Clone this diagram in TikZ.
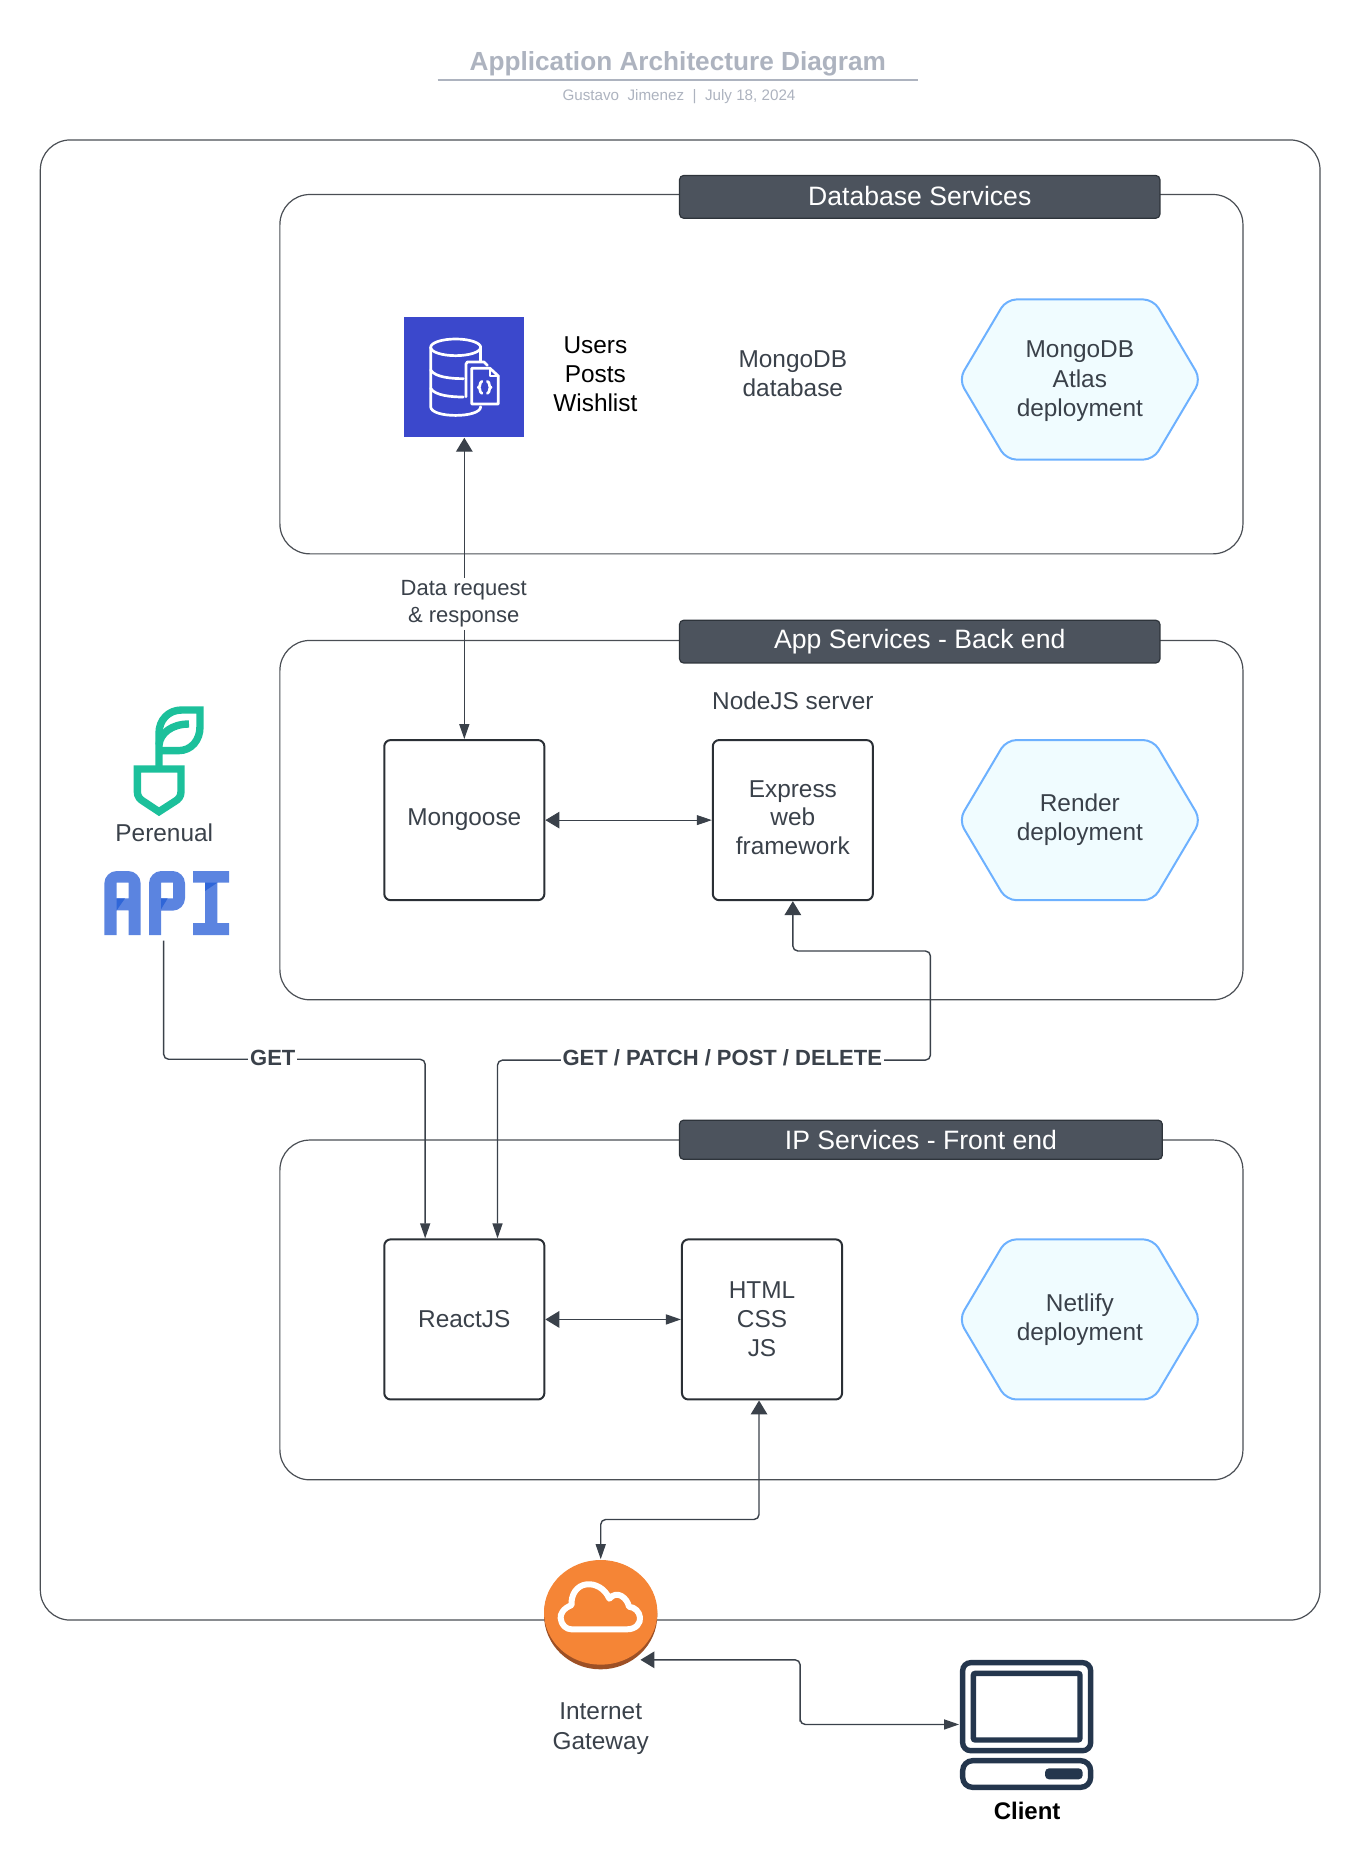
\documentclass[tikz,border=0pt]{standalone}
\usepackage{fontspec}
\setmainfont{Liberation Sans}
\usetikzlibrary{arrows.meta,calc}
\definecolor{ink}{HTML}{3A414A}
\definecolor{hdr}{HTML}{4C535D}
\definecolor{frame}{HTML}{4A4E54}
\definecolor{ttl}{HTML}{ADB3BF}
\definecolor{hexfill}{HTML}{F0FCFF}
\definecolor{hexline}{HTML}{6DB1FF}
\definecolor{leaf}{HTML}{1CC09B}
\definecolor{apib}{HTML}{5B84E0}
\definecolor{apid}{HTML}{2F66D8}
\definecolor{dbblue}{HTML}{3B48CC}
\definecolor{orng}{HTML}{F58536}
\definecolor{orngd}{HTML}{9D5025}
\definecolor{navy}{HTML}{24364D}
\definecolor{boxline}{HTML}{2A2F35}
\tikzset{
  sized/.style 2 args={minimum width=#1*0.593pt,minimum height=#2*0.593pt,inner sep=0pt},
  label text/.style={font=\fontsize{12.2}{14.6}\selectfont,text=ink,align=center},
  container/.style={draw=frame,line width=0.6pt,rounded corners=15pt,fill=none},
  header/.style={draw=ink!80!black,fill=hdr,line width=0.6pt,rounded corners=2pt,text=white,font=\fontsize{13.3}{16}\selectfont},
  svc/.style={draw=boxline,line width=1pt,rounded corners=3.2pt,fill=white,label text},
  hexshape/.style={draw=hexline,fill=hexfill,line width=1pt,rounded corners=5pt},
  conn/.style={draw=ink,line width=0.7pt,rounded corners=2.5pt},
  bigs/.style={{Triangle[length=7pt,width=8.3pt]}-{Triangle[length=7.5pt,width=5pt]}},
  smalltip/.style={-{Triangle[length=7.5pt,width=5pt]}},
  linklabel/.style={font=\bfseries\fontsize{11}{13}\selectfont,text=ink,fill=white,inner sep=1pt},
}
\newcommand{\hexa}[2]{\path[hexshape] ({#1-102},#2) -- ({#1-62},{#2-67.5}) -- ({#1+62},{#2-67.5}) -- ({#1+102},#2) -- ({#1+62},{#2+67.5}) -- ({#1-62},{#2+67.5}) -- cycle;}
\begin{document}
\begin{tikzpicture}[x=0.593pt,y=-0.593pt]
\useasboundingbox (0,0) rectangle (1145,1568.3);
% title
\node[font=\bfseries\fontsize{13.1}{16}\selectfont,text=ttl] (title) at (571.5,54) {Application Architecture Diagram};
\coordinate (ruleL) at (369,67.5); \coordinate (ruleR) at (774,67.5);
\draw[ttl,line width=0.75pt] (ruleL) -- (ruleR);
\node[font=\fontsize{7.6}{9}\selectfont,text=ttl] (subtitle) at (572.5,81.5) {Gustavo\ \ Jimenez\ \ |\ \ July 18, 2024};
% frames
\node[container,sized={1079}{1248}] (outer) at (573.5,742) {};
\node[container,sized={812}{303}] (dbgroup) at (642,315.5) {};
\node[container,sized={812}{303}] (appgroup) at (642,691.5) {};
\node[container,sized={812}{286.5}] (ipgroup) at (642,1104.5) {};
\node[header,sized={405}{36}] (dbhdr) at (775.5,166) {\raisebox{0.8pt}{Database Services}};
\node[header,sized={405}{36}] (apphdr) at (775.5,541) {\raisebox{-0.8pt}{App Services - Back end}};
\node[header,sized={407}{33}] (iphdr) at (776.5,961) {IP Services - Front end};
% hexagons
\hexa{910.5}{320}
\node[label text] (atlas) at (910.5,321.5) {MongoDB\\Atlas\\deployment};
\hexa{910.5}{691.5}
\node[label text] (render) at (910.5,691) {Render\\deployment};
\hexa{910.5}{1112.5}
\node[label text] (netlify) at (910.5,1113) {Netlify\\deployment};
% database row
\node[fill=dbblue,sized={101}{101.5}] (dbicon) at (391.5,318) {};
\begin{scope}[shift={(190pt,-145pt)},x=0.16667pt,y=-0.16667pt,line width=1.35pt,line cap=round,line join=round]
  \draw[white] (227,172) ellipse [x radius=75,y radius=25];
  \draw[white] (152,172) -- (152,350) .. controls (152,385) and (302,385) .. (302,350);
  \draw[white] (302,172) -- (302,212);
  \draw[white] (152,240) .. controls (165,262) and (215,266) .. (250,266);
  \draw[white] (152,295) .. controls (165,317) and (215,321) .. (250,321);
  \draw[white] (258,320) -- (258,222) -- (262,216) -- (312,216) -- (322,226);
  \draw[white] (275,235) -- (330,235) -- (355,258) -- (355,342) -- (275,342) -- cycle;
  \draw[white] (330,235) -- (330,258) -- (355,258);
  \draw[white] (306,274) .. controls (296,278) and (304,290) .. (295,292) .. controls (304,295) and (296,306) .. (306,310);
  \draw[white] (322,274) .. controls (332,278) and (324,290) .. (333,292) .. controls (324,295) and (332,306) .. (322,310);
\end{scope}
\node[font=\fontsize{12.2}{14.6}\selectfont,align=center,text=black] (tables) at (502,315.5) {Users\\Posts\\Wishlist};
\node[label text] (mongodb) at (668.5,315) {MongoDB\\database};
% back end row
\node[svc,sized={135}{135}] (mongoose) at (391.5,691.5) {Mongoose};
\node[svc,sized={135}{135}] (express) at (668.5,691.5) {\raisebox{0.6pt}{\begin{tabular}{@{}c@{}}Express\\[-0.2pt]web\\[-0.2pt]framework\end{tabular}}};
\node[label text] (nodejs) at (668.5,591) {NodeJS server};
% front end row
\node[svc,sized={135}{135}] (react) at (391.5,1112.5) {ReactJS};
\node[svc,sized={135}{135}] (html) at (642.5,1112.5) {HTML\\CSS\\JS};
% perenual
\node[label text] (perenual) at (138.5,702) {Perenual};
\begin{scope}[shift={(40pt,-340pt)},x=0.16667pt,y=-0.16667pt,line join=miter]
  \draw[leaf,line width=3.7pt] (172,267) -- (303,267) -- (303,335) .. controls (303,350) and (295,358) .. (285,364) -- (237,395) -- (190,364) .. controls (180,358) and (172,350) .. (172,335) -- cycle;
  \draw[leaf,line width=3.7pt] (237,267) -- (237,160) .. controls (237,120) and (265,90) .. (305,90) -- (360,90) -- (360,140) .. controls (360,180) and (335,212) .. (295,212) -- (237,212);
  \draw[leaf,line width=3.7pt] (237,195) .. controls (240,160) and (275,132) .. (327,132);
  \fill[apib,even odd rule] (73,765) -- (73,610) .. controls (73,590) and (90,573) .. (110,573) -- (145,573) .. controls (165,573) and (182,590) .. (182,610) -- (182,765) -- (146,765) -- (146,691) -- (110,691) -- (110,765) -- cycle (110,608) -- (146,608) -- (146,655) -- (110,655) -- cycle;
  \fill[apid] (110,655) -- (135,655) -- (110,691) -- cycle;
  \fill[apib,even odd rule] (207,765) -- (207,610) .. controls (207,590) and (224,573) .. (244,573) -- (278,573) .. controls (298,573) and (315,590) .. (315,610) -- (315,655) .. controls (315,675) and (298,692) .. (278,692) -- (243,692) -- (243,765) -- cycle (243,608) -- (279,608) -- (279,655) -- (243,655) -- cycle;
  \fill[apid] (243,655) -- (263,655) -- (243,688) -- cycle;
  \fill[apib] (339,573) -- (447,573) -- (447,608) -- (412,608) -- (412,729) -- (447,729) -- (447,765) -- (339,765) -- (339,729) -- (375,729) -- (375,608) -- (339,608) -- cycle;
  \fill[apid] (375,608) -- (412,608) -- (375,633) -- cycle;
\end{scope}
\coordinate (apiport) at (138,793);
% gateway
\node[sized={96}{92}] (gateway) at (506.5,1361) {};
\node[label text] (gwlabel) at (506.5,1457.5) {Internet\\Gateway};
\coordinate (gwport) at (540,1399.5);
% client
\node[sized={113}{108}] (client) at (865.5,1454) {};
\node[font=\bfseries\fontsize{12}{14}\selectfont,text=black] (clientlabel) at (866,1526.5) {Client};
% connectors
\draw[conn,bigs] (dbicon.south) -- (mongoose.north);
\node[font=\fontsize{11}{13.2}\selectfont,text=ink,fill=white,align=center,inner sep=1.5pt] (datalabel) at (391,509) {Data request\\\& response};
\draw[conn,bigs,line width=0.4pt] (mongoose.east) -- (express.west);
\draw[conn,smalltip] (apiport) |- ($(react.north)+(-33,-151)$) -- ($(react.north)+(-33,0)$);
\node[linklabel] (getlabel) at (230,892) {GET};
\draw[conn,bigs] (express.south) -- ++(0,42) -| ++(116,92) -| ($(react.north)+(28,0)$);
\node[linklabel] (restlabel) at (609,892) {GET / PATCH / POST / DELETE};
\draw[conn,bigs] (react.east) -- (html.west);
\draw[conn,bigs] ($(html.south)+(-2.5,0)$) |- ($(gateway.north)+(0,-33.5)$) -- (gateway.north);
\draw[conn,bigs] (gwport) -| ($(client.west)+(-134,0)$) |- (client.west);
% gateway icon over the frame line
\begin{scope}[shift={(265pt,-775pt)},x=0.16667pt,y=-0.16667pt]
  \fill[orngd] (212,195) ellipse [x radius=170,y radius=163];
  \fill[orng] (212,187) ellipse [x radius=170,y radius=157];
  \draw[white,line width=3pt,line join=round] (125,238) -- (290,238) .. controls (320,238) and (332,218) .. (330,202) .. controls (328,185) and (315,172) .. (297,170) .. controls (292,145) and (262,118) .. (238,146) .. controls (225,115) and (195,100) .. (170,103) .. controls (140,106) and (122,135) .. (125,165) .. controls (100,175) and (90,192) .. (92,205) .. controls (94,225) and (108,238) .. (125,238) -- cycle;
\end{scope}
% client icon
\begin{scope}[shift={(475pt,-825pt)},x=0.16667pt,y=-0.16667pt]
  \draw[navy,line width=2.7pt,rounded corners=4pt] (38,38) rectangle (422,302);
  \draw[navy,line width=2.7pt,rounded corners=1pt] (70,70) rectangle (390,270);
  \draw[navy,line width=2.7pt,rounded corners=5pt] (38,332) rectangle (422,412);
  \fill[navy,rounded corners=2pt] (285,355) rectangle (398,388);
\end{scope}
\end{tikzpicture}
\end{document}
